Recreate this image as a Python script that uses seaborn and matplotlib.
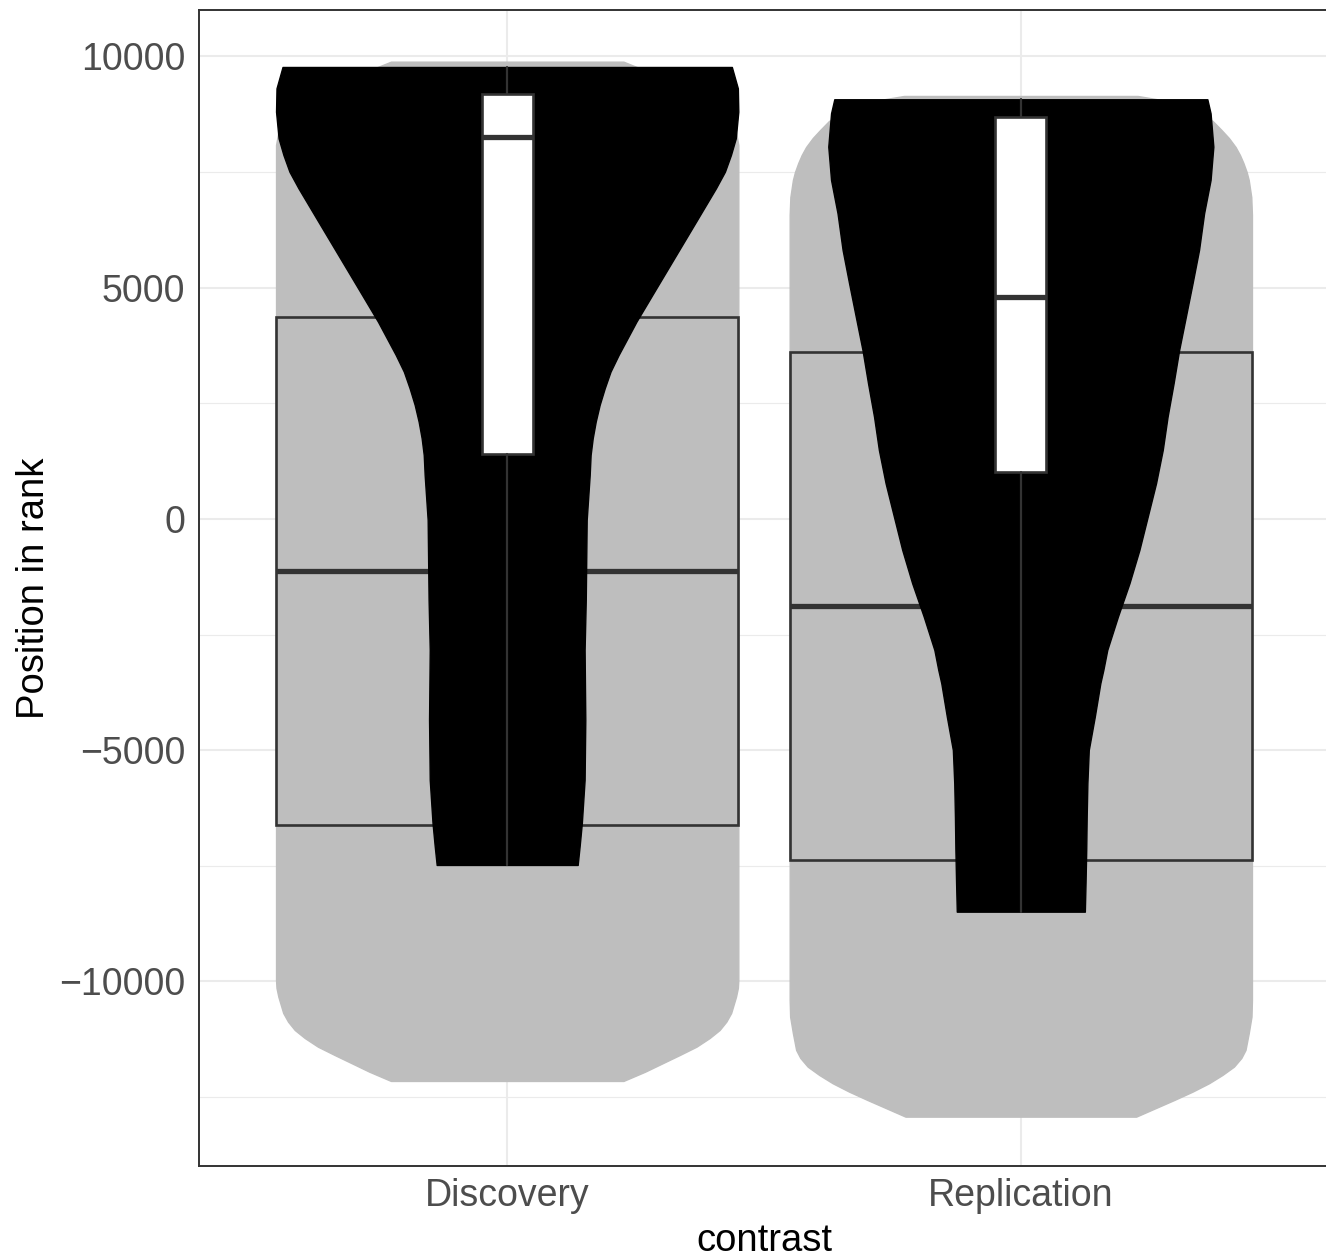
import matplotlib
matplotlib.use("Agg")
import matplotlib.pyplot as plt
from matplotlib.ticker import FixedLocator
import seaborn as sns

# ---- data -----------------------------------------------------------------
categories = ["Discovery", "Replication"]

# Background layer: all ranks, violin outline (rank value, relative half-width)
bg_y_discovery = [-12151, -11950, -11762, -11589, -11410, -11222, -11049, -10869,
                  -10681, -10329, -10141, -9968,
                  8086, 8368, 8627, 8843, 9059, 9232, 9427, 9600, 9773, 9888]
bg_w_discovery = [0.503, 0.597, 0.675, 0.747, 0.819, 0.876, 0.919, 0.948,
                  0.969, 0.990, 0.998, 1.000,
                  1.000, 0.990, 0.970, 0.940, 0.890, 0.830, 0.750, 0.660, 0.560, 0.503]
bg_y_replication = [-12923, -12562, -12382, -12201, -12022, -11842, -11654, -11481,
                    -11120, -10761, -10400,
                    6573, 6962, 7330, 7503, 7697, 7870, 8043, 8238, 8411, 8605,
                    8778, 8930, 9059, 9146]
bg_w_replication = [0.499, 0.664, 0.743, 0.814, 0.872, 0.922, 0.954, 0.972,
                    0.986, 0.998, 1.000,
                    1.000, 0.997, 0.986, 0.977, 0.963, 0.948, 0.929, 0.900, 0.868, 0.830,
                    0.770, 0.700, 0.610, 0.506]

# Foreground layer: selected ranks, violin outline (rank value, relative half-width)
fg_y_discovery = [-7481, -7049, -6573, -5643, -4346, -2832, -1751, -22, 951, 1384,
                  1745, 2104, 2465, 2826, 3185, 3546, 4266, 4988, 5708, 6428,
                  6789, 7150, 7509, 7870, 8231, 8806, 9312, 9773]
fg_w_discovery = [0.305, 0.314, 0.323, 0.335, 0.338, 0.335, 0.340, 0.344, 0.357, 0.361,
                  0.370, 0.383, 0.400, 0.422, 0.447, 0.482, 0.559, 0.645, 0.731, 0.817,
                  0.860, 0.903, 0.942, 0.968, 0.989, 1.000, 0.998, 0.972]
fg_y_replication = [-8491, -7877, -7157, -6437, -5714, -4995, -4275, -3553, -3265,
                    -2832, -2112, -1390, -670, 50, 772, 1492, 2212, 2934, 3654,
                    4374, 5096, 5816, 6610, 7330, 8050, 8772, 9075]
fg_w_replication = [0.277, 0.280, 0.283, 0.285, 0.288, 0.294, 0.320, 0.344, 0.357,
                    0.374, 0.420, 0.470, 0.513, 0.549, 0.585, 0.614, 0.635, 0.661, 0.685,
                    0.714, 0.743, 0.771, 0.793, 0.821, 0.833, 0.821, 0.807]

# Box statistics
bg_q1 = [-6616, -7373]
bg_median = [-1124, -1881]
bg_q3 = [4374, 3618]

fg_q1 = [1405, 1023]
fg_median = [8266, 4793]
fg_q3 = [9183, 8699]
fg_whisker_low = [-7481, -8491]
fg_whisker_high = [9773, 9075]

y_ticks = [-10000, -5000, 0, 5000, 10000]
y_minor = [-12500, -7500, -2500, 2500, 7500]

# ---- style ----------------------------------------------------------------
sns.set_theme(style="whitegrid")
plt.rcParams["font.family"] = ["Liberation Sans", "DejaVu Sans"]

GREY = "#BEBEBE"
LINE = "#333333"
GRID = "#EBEBEB"
TXT = "#4D4D4D"
VIOLIN_HALF = 0.45

fig = plt.figure(figsize=(13.26, 12.58), dpi=100)
fig.patch.set_facecolor("white")
ax = fig.add_axes([199 / 1326, (1258 - 1166) / 1258, 1130 / 1326, 1156 / 1258])
ax.set_facecolor("white")
ax.set_axisbelow(True)

positions = [1, 2]


def draw_violin(pos, ys, ws, color, z):
    left = [pos - VIOLIN_HALF * w for w in ws]
    right = [pos + VIOLIN_HALF * w for w in ws]
    ax.fill_betweenx(ys, left, right, facecolor=color, edgecolor=color,
                     linewidth=1.0, zorder=z)


# background violins
draw_violin(1, bg_y_discovery, bg_w_discovery, GREY, 2)
draw_violin(2, bg_y_replication, bg_w_replication, GREY, 2)

# background boxes (no whiskers)
bg_stats = [dict(med=m, q1=a, q3=b, whislo=a, whishi=b, fliers=[])
            for a, m, b in zip(bg_q1, bg_median, bg_q3)]
bp = ax.bxp(bg_stats, positions=positions, widths=0.9, patch_artist=True,
            showcaps=False, showfliers=False, manage_ticks=False,
            boxprops=dict(facecolor=GREY, edgecolor=LINE, linewidth=1.9),
            medianprops=dict(color=LINE, linewidth=3.8, solid_capstyle="butt"),
            whiskerprops=dict(linewidth=0))
for art in bp["boxes"] + bp["medians"]:
    art.set_zorder(3)

# foreground violins
draw_violin(1, fg_y_discovery, fg_w_discovery, "black", 4)
draw_violin(2, fg_y_replication, fg_w_replication, "black", 4)

# foreground boxes
fg_stats = [dict(med=m, q1=a, q3=b, whislo=lo, whishi=hi, fliers=[])
            for a, m, b, lo, hi in zip(fg_q1, fg_median, fg_q3,
                                       fg_whisker_low, fg_whisker_high)]
bp2 = ax.bxp(fg_stats, positions=positions, widths=0.1, patch_artist=True,
             showcaps=False, showfliers=False, manage_ticks=False,
             boxprops=dict(facecolor="white", edgecolor=LINE, linewidth=1.9),
             medianprops=dict(color=LINE, linewidth=3.8, solid_capstyle="butt"),
             whiskerprops=dict(color=LINE, linewidth=1.6))
for art in bp2["boxes"] + bp2["medians"] + bp2["whiskers"]:
    art.set_zorder(5)

# ---- axes -----------------------------------------------------------------
ax.set_xlim(0.4, 2.6)
ax.set_ylim(-13990, 11005)
ax.set_xticks(positions)
ax.set_xticklabels(categories)
ax.yaxis.set_major_locator(FixedLocator(y_ticks))
ax.yaxis.set_minor_locator(FixedLocator(y_minor))

ax.grid(which="major", axis="both", color=GRID, linewidth=1.5)
ax.grid(which="minor", axis="y", color=GRID, linewidth=0.8)

for side in ["left", "right", "top", "bottom"]:
    ax.spines[side].set_visible(True)
    ax.spines[side].set_color(LINE)
    ax.spines[side].set_linewidth(1.4)
    ax.spines[side].set_zorder(10)

ax.tick_params(axis="both", which="major", length=6, width=1.4, color=LINE,
               labelsize=27, labelcolor=TXT, direction="out")
ax.tick_params(axis="y", which="major", pad=4)
ax.tick_params(axis="x", which="major", pad=3)
ax.tick_params(axis="y", which="minor", length=0)

ax.set_xlabel("contrast", fontsize=27.5, color="black")
ax.set_ylabel("Position in rank", fontsize=27.5, color="black")
ax.xaxis.set_label_coords(0.5, -0.065)
ax.xaxis.label.set_verticalalignment("center")
ax.yaxis.set_label_coords(-0.146, 0.5)
ax.yaxis.label.set_verticalalignment("center")

fig.savefig("out.png", dpi=100)
